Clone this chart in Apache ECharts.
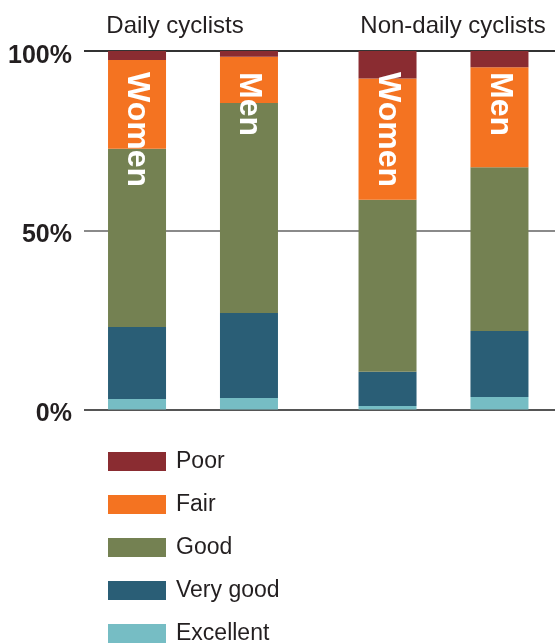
<!DOCTYPE html>
<html>
<head>
<meta charset="utf-8">
<script src="https://cdn.jsdelivr.net/npm/echarts@6/dist/echarts.min.js"></script>
<style>html,body{margin:0;padding:0;background:#fff;}#c{width:555px;height:644px;}</style>
</head>
<body>
<div id="c"></div>
<script>
// Data (percent), order: Daily Women, Daily Men, Non-daily Women, Non-daily Men
var categories = ['Daily cyclists', 'Non-daily cyclists'];
var groups = ['Women', 'Men'];
var ratings = ['Excellent', 'Very good', 'Good', 'Fair', 'Poor'];
var excellent = [2.9, 3.2, 1.0, 3.5];
var veryGood = [20.1, 23.7, 9.5, 18.4];
var good = [49.7, 58.6, 48.0, 45.7];
var fair = [24.8, 12.9, 33.8, 27.9];
var poor = [2.5, 1.6, 7.7, 4.5];
var yTicks = [0, 50, 100];

var values = [excellent, veryGood, good, fair, poor];
var colors = ['#76bdc4', '#2a5e76', '#748152', '#f47321', '#8a2c31'];
var FONT = 'Liberation Sans';

var series = [];
groups.forEach(function (g, gi) {
  ratings.forEach(function (r, ri) {
    var arr = values[ri];
    var s = {
      type: 'bar',
      name: r,
      stack: g,
      xAxisIndex: 1,
      yAxisIndex: 1,
      barWidth: 58,
      barGap: '93%',
      itemStyle: { color: colors[ri] },
      emphasis: { disabled: true },
      data: [arr[gi], arr[2 + gi]]
    };
    if (r === 'Poor') {
      s.label = {
        show: true,
        formatter: g,
        position: 'insideTop',
        distance: 21,
        rotate: -90,
        align: 'left',
        verticalAlign: 'middle',
        color: '#fff',
        fontFamily: FONT,
        fontWeight: 'bold',
        fontSize: 32
      };
    }
    series.push(s);
  });
});

var chart = echarts.init(document.getElementById('c'), null, { renderer: 'canvas' });
chart.setOption({
  animation: false,
  backgroundColor: '#fff',
  title: [
    { text: categories[0], left: 175, top: 14, padding: 0, textAlign: 'center',
      textStyle: { fontFamily: FONT, fontSize: 24, fontWeight: 'normal', color: '#231f20' } },
    { text: categories[1], left: 453, top: 14, padding: 0, textAlign: 'center',
      textStyle: { fontFamily: FONT, fontSize: 24, fontWeight: 'normal', color: '#231f20' } }
  ],
  legend: {
    orient: 'vertical',
    left: 108,
    top: 450,
    height: 260,
    padding: 0,
    itemWidth: 58,
    itemHeight: 19,
    itemGap: 20,
    icon: 'rect',
    selectedMode: false,
    data: ['Poor', 'Fair', 'Good', 'Very good', 'Excellent'],
    textStyle: { fontFamily: FONT, fontSize: 23, lineHeight: 19, color: '#231f20', padding: [0, 0, 0, 5] }
  },
  grid: [
    { left: 84, right: 0, top: 51, bottom: 234.5, outerBoundsMode: 'none', containLabel: false },
    { left: 67.75, width: 501, top: 51, bottom: 234.5, outerBoundsMode: 'none', containLabel: false }
  ],
  xAxis: [
    { gridIndex: 0, type: 'value', min: 0, max: 1, show: false },
    { gridIndex: 1, type: 'category', data: categories, show: false }
  ],
  yAxis: [
    {
      gridIndex: 0, type: 'value', min: yTicks[0], max: yTicks[yTicks.length - 1], interval: 50,
      axisLine: { show: false }, axisTick: { show: false },
      axisLabel: {
        formatter: '{value}%', margin: 12, fontFamily: FONT, fontWeight: 'bold',
        fontSize: 25, color: '#231f20', verticalAlign: 'top', lineHeight: 10
      },
      splitLine: { show: true, lineStyle: { color: ['#555555', '#8a8a8a', '#333333'], width: 2 } }
    },
    { gridIndex: 1, type: 'value', min: 0, max: 100, show: false }
  ],
  series: series
});
</script>
</body>
</html>
